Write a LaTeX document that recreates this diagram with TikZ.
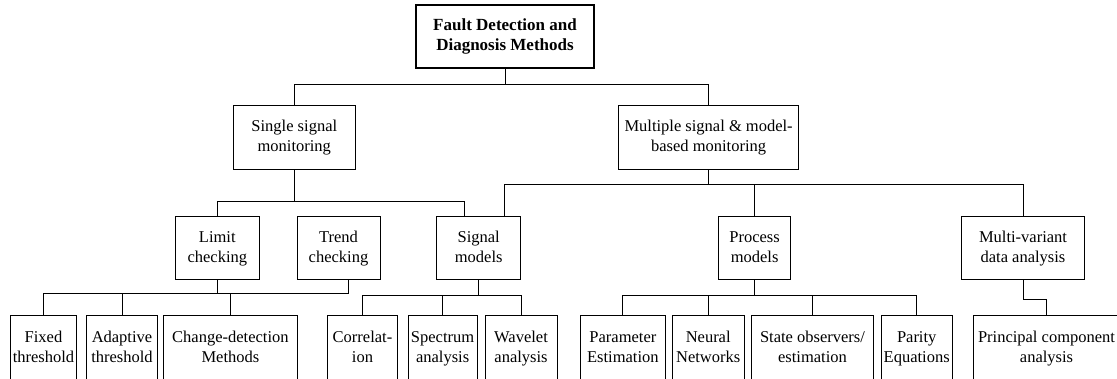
\documentclass[tikz,border=0pt]{standalone}
\usepackage{fontspec}
\setmainfont{Liberation Serif}
\usetikzlibrary{calc}
% two struted lines, so every box centres its text the same way
\newcommand{\twolines}[2]{\strut #1\\\strut #2}
\begin{document}
\begin{tikzpicture}[x=1pt,y=-1pt,
  box/.style={draw=black,line width=1pt,align=center,inner sep=0pt,
    minimum height=63.3pt,font=\fontsize{16.5}{20}\selectfont},
  lowbox/.style={box,minimum height=66pt},
  topbox/.style={box,line width=2pt,minimum height=63pt,
    font=\fontsize{17}{20}\selectfont\bfseries},
  wire/.style={draw=black,line width=1pt}]
\useasboundingbox (0,0) rectangle (1117,379);
\clip (0,0) rectangle (1117,379);

% root
\node[topbox,minimum width=177.5pt] (root) at (505,36.5) {\twolines{Fault Detection and}{Diagnosis Methods}};

% second level
\node[box,minimum width=122pt] (single) at (294.3,137.5) {\twolines{Single signal}{monitoring}};
\node[box,minimum width=180pt] (multi) at (708.6,137.5) {\twolines{Multiple signal \& model-}{based monitoring}};

% third level
\node[box,minimum width=84pt] (limit) at (217.3,248.3) {\twolines{Limit}{checking}};
\node[box,minimum width=83pt] (trend) at (338.5,248.3) {\twolines{Trend}{checking}};
\node[box,minimum width=84pt] (signal) at (478.7,248.3) {\twolines{Signal}{models}};
\node[box,minimum width=72pt] (process) at (754.6,248.3) {\twolines{Process}{models}};
\node[box,minimum width=123pt] (mv) at (1023,248.3) {\twolines{Multi-variant}{data analysis}};

% leaves
\node[lowbox,minimum width=66pt] (fixed) at (43.5,349) {\twolines{Fixed}{threshold}};
\node[lowbox,minimum width=71pt] (adaptive) at (122,349) {\twolines{Adaptive}{threshold}};
\node[lowbox,minimum width=134pt] (change) at (230.4,349) {\twolines{Change-detection}{Methods}};
\node[lowbox,minimum width=70.5pt] (corr) at (362.5,349) {\twolines{Correlat-}{ion}};
\node[lowbox,minimum width=69pt] (spectrum) at (442.6,349) {\twolines{Spectrum}{analysis}};
\node[lowbox,minimum width=72pt] (wavelet) at (521,349) {\twolines{Wavelet}{analysis}};
\node[lowbox,minimum width=84.7pt] (param) at (622.9,349) {\twolines{Parameter}{Estimation}};
\node[lowbox,minimum width=71.7pt] (neural) at (708.2,349) {\twolines{Neural}{Networks}};
\node[lowbox,minimum width=121.6pt] (state) at (812.5,349) {\twolines{State observers/}{estimation}};
\node[lowbox,minimum width=71.4pt] (parity) at (916.7,349) {\twolines{Parity}{Equations}};
\node[lowbox,minimum width=147pt] (pca) at (1046.5,349) {\twolines{Principal component}{analysis}};

% bus heights
\coordinate (busA) at (0,84.3);
\coordinate (busB) at (0,184.3);
\coordinate (busC) at (0,202);
\coordinate (busD) at (0,293.3);
\coordinate (busE) at (0,296);
\coordinate (busF) at (0,300);

% root to second level
\draw[wire] (root.south) -- (root.south |- busA);
\draw[wire] (single.north) -- (single.north |- busA) -| (multi.north);

% single signal monitoring
\coordinate (sigL) at ($(signal.north)+(-14.7,0)$);
\draw[wire] (single.south) -- (single.south |- busC);
\draw[wire] (limit.north) -- (limit.north |- busC) -| (sigL);

% multiple signal & model-based monitoring
\coordinate (sigR) at ($(signal.north)+(25.6,0)$);
\draw[wire] (multi.south) -- (multi.south |- busB);
\draw[wire] (sigR) -- (sigR |- busB) -| (mv.north);
\draw[wire] (process.north) -- (process.north |- busB);

% limit and trend checking
\coordinate (trendS) at ($(trend.south)+(9.8,0)$);
\draw[wire] (limit.south) -- (limit.south |- busD);
\draw[wire] (trendS) -- (trendS |- busD) -| (fixed.north);
\draw[wire] (adaptive.north) -- (adaptive.north |- busD);
\draw[wire] (change.north) -- (change.north |- busD);

% signal models
\draw[wire] (signal.south) -- (signal.south |- busE);
\draw[wire] (corr.north) -- (corr.north |- busE) -| (wavelet.north);
\draw[wire] (spectrum.north) -- (spectrum.north |- busE);

% process models
\draw[wire] (process.south) -- (process.south |- busE);
\draw[wire] (param.north) -- (param.north |- busE) -| (parity.north);
\draw[wire] (neural.north) -- (neural.north |- busE);
\draw[wire] (state.north) -- (state.north |- busE);

% multi-variant data analysis
\draw[wire] (mv.south) -- (mv.south |- busF) -| (pca.north);
\end{tikzpicture}
\end{document}
